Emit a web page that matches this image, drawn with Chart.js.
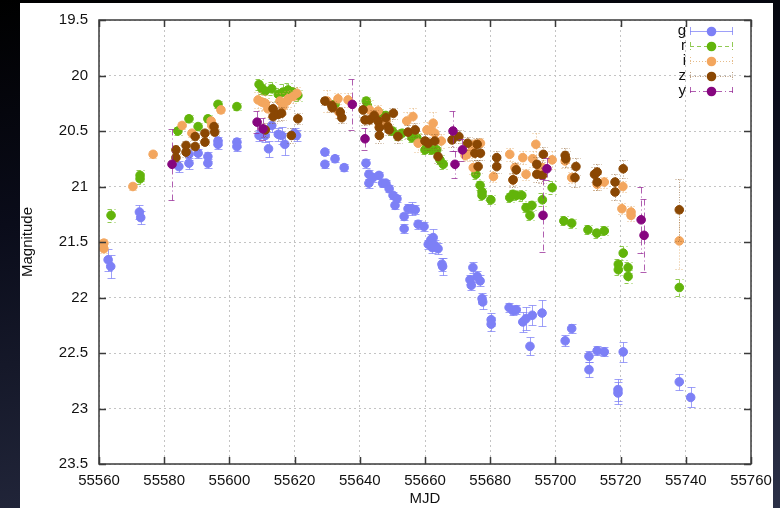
<!DOCTYPE html>
<html>
<head>
<meta charset="utf-8">
<script src="https://cdn.jsdelivr.net/npm/chart.js@4/dist/chart.umd.min.js"></script>
<style>
html, body { margin: 0; padding: 0; }
body {
    width: 780px; height: 508px; overflow: hidden; position: relative;
    background: linear-gradient(170deg, #000 0%, #0a0c1a 35%, #2b3047 100%);
}
#sheet { position: absolute; left: 20px; top: 3px; width: 753px; height: 505px; background: #fff; }
#wrap { position: absolute; left: 0; top: 0; width: 780px; height: 508px; }
</style>
</head>
<body>
<div id="sheet"></div>
<div id="wrap"><canvas id="lc"></canvas></div>
<script>
// light curve, magnitudes per band (MJD, mag, error)
const gMjd = [55562.8, 55563.6, 55572.4, 55572.8, 55584.5, 55587.6, 55587.6, 55590.4, 55593.4, 55593.4,
    55596.5, 55596.5, 55602.3, 55602.3, 55609.1, 55611.0, 55612.0, 55613.0, 55615.0, 55616.0,
    55617.0, 55620.0, 55620.6, 55629.3, 55629.3, 55632.4, 55635.2, 55641.9, 55642.8, 55644.0,
    55642.8, 55645.9, 55647.0, 55648.0, 55649.0, 55650.2, 55651.4, 55650.8, 55653.6, 55653.6,
    55654.8, 55656.0, 55657.0, 55657.9, 55659.7, 55661.0, 55661.8, 55662.5, 55662.2, 55663.0,
    55664.0, 55665.2, 55665.4, 55673.8, 55674.2, 55674.7, 55676.0, 55676.9, 55677.5, 55677.7,
    55680.3, 55680.3, 55685.8, 55687.0, 55688.0, 55690.0, 55691.0, 55692.2, 55692.9, 55695.9,
    55703.0, 55705.0, 55710.3, 55710.3, 55712.8, 55715.0, 55719.2, 55719.2, 55720.8, 55738.0,
    55741.5];
const gMag = [21.66, 21.72, 21.23, 21.28, 20.82, 20.71, 20.79, 20.70, 20.73, 20.79,
    20.59, 20.62, 20.60, 20.64, 20.54, 20.54, 20.66, 20.45, 20.53, 20.54,
    20.62, 20.52, 20.54, 20.69, 20.80, 20.75, 20.83, 20.79, 20.89, 20.92,
    20.97, 20.90, 20.97, 20.97, 21.02, 21.08, 21.11, 21.17, 21.27, 21.38,
    21.20, 21.20, 21.21, 21.34, 21.36, 21.52, 21.48, 21.46, 21.55, 21.53,
    21.56, 21.70, 21.72, 21.84, 21.89, 21.73, 21.81, 21.85, 22.01, 22.04,
    22.20, 22.24, 22.09, 22.12, 22.11, 22.22, 22.19, 22.44, 22.16, 22.14,
    22.39, 22.28, 22.53, 22.65, 22.48, 22.49, 22.83, 22.86, 22.49, 22.76,
    22.90];
const gErr = [0.10, 0.10, 0.06, 0.06, 0.05, 0.05, 0.05, 0.04, 0.04, 0.04,
    0.04, 0.04, 0.04, 0.04, 0.05, 0.06, 0.07, 0.06, 0.06, 0.08,
    0.10, 0.05, 0.05, 0.03, 0.03, 0.03, 0.03, 0.04, 0.04, 0.04,
    0.04, 0.03, 0.03, 0.03, 0.03, 0.03, 0.03, 0.03, 0.03, 0.04,
    0.04, 0.06, 0.04, 0.04, 0.04, 0.04, 0.05, 0.08, 0.05, 0.05,
    0.05, 0.06, 0.08, 0.04, 0.04, 0.05, 0.05, 0.05, 0.05, 0.06,
    0.06, 0.06, 0.04, 0.04, 0.04, 0.09, 0.10, 0.08, 0.09, 0.12,
    0.05, 0.04, 0.05, 0.07, 0.04, 0.04, 0.10, 0.10, 0.09, 0.07,
    0.09];

const rMjd = [55563.7, 55572.6, 55572.6, 55584.2, 55587.6, 55590.4, 55593.4, 55596.5, 55602.3, 55609.1,
    55610.0, 55611.0, 55613.0, 55615.0, 55616.4, 55618.0, 55619.5, 55621.0, 55632.4, 55642.0,
    55642.3, 55646.0, 55648.0, 55650.0, 55651.7, 55653.0, 55656.0, 55657.5, 55660.0, 55662.0,
    55663.6, 55664.6, 55665.6, 55675.6, 55676.9, 55677.5, 55677.5, 55680.2, 55686.0, 55687.0,
    55688.0, 55689.7, 55691.0, 55692.2, 55692.8, 55696.0, 55699.0, 55702.6, 55705.0, 55710.0,
    55712.7, 55715.0, 55719.3, 55719.3, 55720.8, 55722.3, 55722.3, 55738.0];
const rMag = [21.26, 20.90, 20.93, 20.50, 20.39, 20.46, 20.39, 20.26, 20.28, 20.08,
    20.12, 20.14, 20.12, 20.17, 20.15, 20.13, 20.15, 20.18, 20.26, 20.23,
    20.27, 20.34, 20.36, 20.50, 20.54, 20.52, 20.56, 20.56, 20.67, 20.67,
    20.67, 20.76, 20.80, 20.89, 20.99, 21.05, 21.08, 21.12, 21.10, 21.07,
    21.08, 21.08, 21.19, 21.26, 21.17, 21.12, 21.01, 21.31, 21.33, 21.39,
    21.42, 21.40, 21.70, 21.75, 21.60, 21.73, 21.81, 21.91];
const rErr = [0.06, 0.05, 0.05, 0.04, 0.03, 0.03, 0.03, 0.03, 0.03, 0.05,
    0.05, 0.06, 0.06, 0.06, 0.07, 0.06, 0.05, 0.05, 0.04, 0.04,
    0.04, 0.04, 0.04, 0.04, 0.04, 0.04, 0.04, 0.04, 0.04, 0.04,
    0.04, 0.04, 0.04, 0.04, 0.04, 0.04, 0.04, 0.04, 0.04, 0.04,
    0.04, 0.05, 0.04, 0.04, 0.04, 0.06, 0.06, 0.04, 0.04, 0.04,
    0.04, 0.04, 0.05, 0.05, 0.06, 0.05, 0.06, 0.08];

const iMjd = [55561.5, 55561.5, 55570.4, 55576.6, 55585.5, 55588.5, 55594.4, 55594.6, 55597.4, 55608.8,
    55610.0, 55611.0, 55611.8, 55615.5, 55616.4, 55617.7, 55618.0, 55619.5, 55620.7, 55630.0,
    55633.3, 55633.6, 55636.4, 55643.0, 55645.6, 55646.0, 55648.0, 55654.4, 55656.3, 55657.9,
    55660.6, 55662.0, 55662.5, 55663.0, 55665.0, 55672.3, 55673.0, 55674.4, 55674.8, 55675.3,
    55677.0, 55681.0, 55686.0, 55687.0, 55687.6, 55690.0, 55691.0, 55693.0, 55694.0, 55695.3,
    55696.0, 55699.0, 55703.0, 55705.0, 55712.8, 55715.0, 55720.4, 55720.7, 55723.2, 55723.2,
    55738.0];
const iMag = [21.51, 21.56, 21.00, 20.71, 20.45, 20.52, 20.41, 20.45, 20.31, 20.22,
    20.24, 20.25, 20.30, 20.23, 20.28, 20.23, 20.21, 20.19, 20.16, 20.23,
    20.21, 20.33, 20.22, 20.31, 20.32, 20.46, 20.41, 20.41, 20.37, 20.61,
    20.49, 20.50, 20.43, 20.52, 20.59, 20.72, 20.71, 20.68, 20.83, 20.62,
    20.61, 20.91, 20.71, 20.94, 20.83, 20.74, 20.89, 20.75, 20.62, 20.83,
    20.83, 20.76, 20.77, 20.92, 20.98, 20.96, 21.20, 21.00, 21.23, 21.26,
    21.49];
const iErr = [0.04, 0.04, 0.03, 0.03, 0.03, 0.03, 0.03, 0.03, 0.03, 0.07,
    0.07, 0.07, 0.07, 0.07, 0.07, 0.07, 0.07, 0.06, 0.06, 0.10,
    0.05, 0.05, 0.06, 0.09, 0.05, 0.06, 0.05, 0.08, 0.08, 0.08,
    0.07, 0.07, 0.10, 0.06, 0.06, 0.05, 0.05, 0.06, 0.06, 0.05,
    0.05, 0.05, 0.06, 0.05, 0.05, 0.06, 0.05, 0.07, 0.10, 0.06,
    0.07, 0.08, 0.06, 0.05, 0.05, 0.05, 0.05, 0.05, 0.05, 0.05,
    0.25];

const zMjd = [55583.6, 55583.6, 55586.7, 55586.7, 55589.5, 55589.5, 55592.5, 55592.5, 55595.3, 55595.5,
    55611.0, 55613.4, 55613.4, 55615.0, 55616.0, 55619.0, 55621.0, 55629.3, 55631.4, 55631.6,
    55634.0, 55634.5, 55641.0, 55641.6, 55643.0, 55644.4, 55645.6, 55646.0, 55646.0, 55648.0,
    55648.6, 55649.0, 55650.3, 55651.7, 55654.8, 55657.0, 55660.0, 55661.0, 55663.0, 55664.0,
    55668.3, 55670.4, 55673.1, 55675.3, 55676.0, 55677.0, 55676.3, 55682.0, 55682.0, 55687.0,
    55688.0, 55694.3, 55694.3, 55696.0, 55696.3, 55703.0, 55703.2, 55706.0, 55706.3, 55712.0,
    55712.8, 55712.8, 55718.3, 55718.3, 55720.8, 55738.0];
const zMag = [20.67, 20.74, 20.63, 20.69, 20.55, 20.64, 20.52, 20.60, 20.46, 20.51,
    20.49, 20.30, 20.37, 20.35, 20.34, 20.54, 20.39, 20.23, 20.27, 20.29,
    20.33, 20.38, 20.31, 20.40, 20.40, 20.36, 20.41, 20.47, 20.54, 20.38,
    20.46, 20.49, 20.34, 20.55, 20.51, 20.49, 20.59, 20.61, 20.59, 20.73,
    20.58, 20.55, 20.61, 20.70, 20.62, 20.70, 20.82, 20.74, 20.82, 20.94,
    20.85, 20.80, 20.89, 20.90, 20.71, 20.72, 20.75, 20.92, 20.82, 20.89,
    20.87, 20.96, 20.96, 21.05, 20.84, 21.21];
const zErr = [0.04, 0.04, 0.04, 0.04, 0.03, 0.03, 0.03, 0.03, 0.03, 0.03,
    0.06, 0.06, 0.06, 0.06, 0.06, 0.07, 0.05, 0.04, 0.04, 0.04,
    0.05, 0.05, 0.06, 0.05, 0.04, 0.05, 0.05, 0.05, 0.07, 0.05,
    0.05, 0.05, 0.05, 0.06, 0.06, 0.06, 0.06, 0.06, 0.06, 0.06,
    0.06, 0.06, 0.06, 0.06, 0.06, 0.06, 0.06, 0.06, 0.06, 0.06,
    0.06, 0.07, 0.07, 0.07, 0.07, 0.07, 0.07, 0.08, 0.08, 0.07,
    0.07, 0.07, 0.07, 0.07, 0.08, 0.28];

const yMjd = [55582.4, 55608.5, 55610.3, 55637.7, 55641.6, 55668.6, 55669.2, 55671.5, 55696.2, 55697.4,
    55726.3, 55727.2];
const yMag = [20.80, 20.42, 20.48, 20.26, 20.57, 20.50, 20.80, 20.67, 21.26, 20.84,
    21.30, 21.44];
const yErr = [0.32, 0.10, 0.10, 0.23, 0.10, 0.18, 0.12, 0.10, 0.33, 0.10,
    0.30, 0.33];

const xTicks = [55560, 55580, 55600, 55620, 55640, 55660, 55680, 55700, 55720, 55740, 55760];
const yTicks = [19.5, 20, 20.5, 21, 21.5, 22, 22.5, 23, 23.5];

const bands = [
    { name: 'g', mjd: gMjd, mag: gMag, err: gErr, color: '#7d80f6', errColor: 'rgba(125,128,246,0.75)', dash: [] },
    { name: 'r', mjd: rMjd, mag: rMag, err: rErr, color: '#62b40a', errColor: 'rgba(98,180,10,0.7)', dash: [4, 3] },
    { name: 'i', mjd: iMjd, mag: iMag, err: iErr, color: '#f3a65e', errColor: 'rgba(220,160,90,0.7)', dash: [1, 2] },
    { name: 'z', mjd: zMjd, mag: zMag, err: zErr, color: '#8a4703', errColor: 'rgba(138,90,40,0.6)', dash: [1, 1.5] },
    { name: 'y', mjd: yMjd, mag: yMag, err: yErr, color: '#86067f', errColor: 'rgba(150,40,150,0.75)', dash: [6, 3, 1, 3] }
];

const FONT = '"Liberation Sans", Helvetica, Arial, sans-serif';

// error bars under each band's points
const errorBars = {
    id: 'errorBars',
    beforeDatasetDraw(chart, args) {
        const b = bands[args.index];
        const ys = chart.scales.y;
        const ctx = chart.ctx;
        ctx.save();
        ctx.strokeStyle = b.errColor;
        ctx.lineWidth = 1;
        ctx.setLineDash(b.dash);
        args.meta.data.forEach((pt, i) => {
            const t = Math.round(ys.getPixelForValue(b.mag[i] - b.err[i])) + 0.5;
            const u = Math.round(ys.getPixelForValue(b.mag[i] + b.err[i])) + 0.5;
            const x = Math.round(pt.x) + 0.5;
            ctx.beginPath();
            ctx.moveTo(x, t); ctx.lineTo(x, u);
            ctx.moveTo(x - 4, t); ctx.lineTo(x + 4, t);
            ctx.moveTo(x - 4, u); ctx.lineTo(x + 4, u);
            ctx.stroke();
        });
        ctx.restore();
    }
};

// gnuplot style frame, inward ticks and key
const frameAndKey = {
    id: 'frameAndKey',
    afterDraw(chart) {
        const ctx = chart.ctx;
        const a = chart.chartArea;
        const xs = chart.scales.x, ys = chart.scales.y;
        ctx.save();
        ctx.strokeStyle = '#3a3a3a';
        ctx.lineWidth = 1.5;
        ctx.strokeRect(a.left, a.top, a.right - a.left, a.bottom - a.top);
        ctx.beginPath();
        xTicks.forEach(v => {
            const x = Math.round(xs.getPixelForValue(v)) + 0.5;
            ctx.moveTo(x, a.bottom); ctx.lineTo(x, a.bottom - 7);
            ctx.moveTo(x, a.top); ctx.lineTo(x, a.top + 7);
        });
        yTicks.forEach(v => {
            const y = Math.round(ys.getPixelForValue(v)) + 0.5;
            ctx.moveTo(a.left, y); ctx.lineTo(a.left + 7, y);
            ctx.moveTo(a.right, y); ctx.lineTo(a.right - 7, y);
        });
        ctx.stroke();

        // key
        ctx.font = '15px ' + FONT;
        ctx.textAlign = 'right';
        ctx.textBaseline = 'middle';
        bands.forEach((b, i) => {
            const y = 31 + i * 15;
            ctx.fillStyle = '#111';
            ctx.fillText(b.name, 686, y);
            ctx.strokeStyle = b.errColor;
            ctx.lineWidth = 1;
            ctx.setLineDash(b.dash);
            ctx.beginPath();
            ctx.moveTo(690, y + 0.5); ctx.lineTo(733, y + 0.5);
            ctx.moveTo(690.5, y - 4); ctx.lineTo(690.5, y + 4);
            ctx.moveTo(732.5, y - 4); ctx.lineTo(732.5, y + 4);
            ctx.stroke();
            ctx.setLineDash([]);
            ctx.fillStyle = b.color;
            ctx.beginPath();
            ctx.arc(711.5, y + 0.5, 4.8, 0, Math.PI * 2);
            ctx.fill();
        });
        ctx.restore();
    }
};

const datasets = bands.map((b, k) => ({
    label: b.name,
    data: b.mjd.map((m, i) => ({ x: m, y: b.mag[i] })),
    backgroundColor: b.color,
    borderColor: b.color,
    pointRadius: 4.3,
    pointBorderWidth: 1,
    pointHoverRadius: 4.3,
    showLine: false,
    order: bands.length - k
}));

new Chart(document.getElementById('lc'), {
    type: 'scatter',
    data: { datasets: datasets },
    plugins: [errorBars, frameAndKey],
    options: {
        responsive: true,
        maintainAspectRatio: false,
        animation: false,
        layout: { padding: { left: 0, top: 16, right: 29, bottom: 0 } },
        plugins: { legend: { display: false }, tooltip: { enabled: false } },
        scales: {
            x: {
                type: 'linear',
                min: 55560, max: 55760,
                afterBuildTicks: s => { s.ticks = xTicks.map(v => ({ value: v })); },
                afterFit: s => { s.height = 44; },
                ticks: {
                    padding: 8, color: '#111',
                    font: { family: FONT, size: 15 },
                    callback: v => String(v)
                },
                grid: { color: '#c4c4c4', lineWidth: 1, drawTicks: false },
                border: { display: false, dash: [2, 3] },
                title: {
                    display: true, text: 'MJD', color: '#111',
                    font: { family: FONT, size: 15 }, padding: { top: 0, bottom: 0 }
                }
            },
            y: {
                type: 'linear',
                reverse: true,
                min: 19.5, max: 23.5,
                afterBuildTicks: s => { s.ticks = yTicks.map(v => ({ value: v })); },
                afterFit: s => { s.width = 99; },
                ticks: {
                    padding: 11, color: '#111',
                    font: { family: FONT, size: 15 },
                    callback: v => String(v)
                },
                grid: { color: '#c4c4c4', lineWidth: 1, drawTicks: false },
                border: { display: false, dash: [2, 3] },
                title: {
                    display: true, text: 'Magnitude', color: '#111',
                    font: { family: FONT, size: 15 }, padding: { top: 19, bottom: 0 }
                }
            }
        }
    }
});
</script>
</body>
</html>
